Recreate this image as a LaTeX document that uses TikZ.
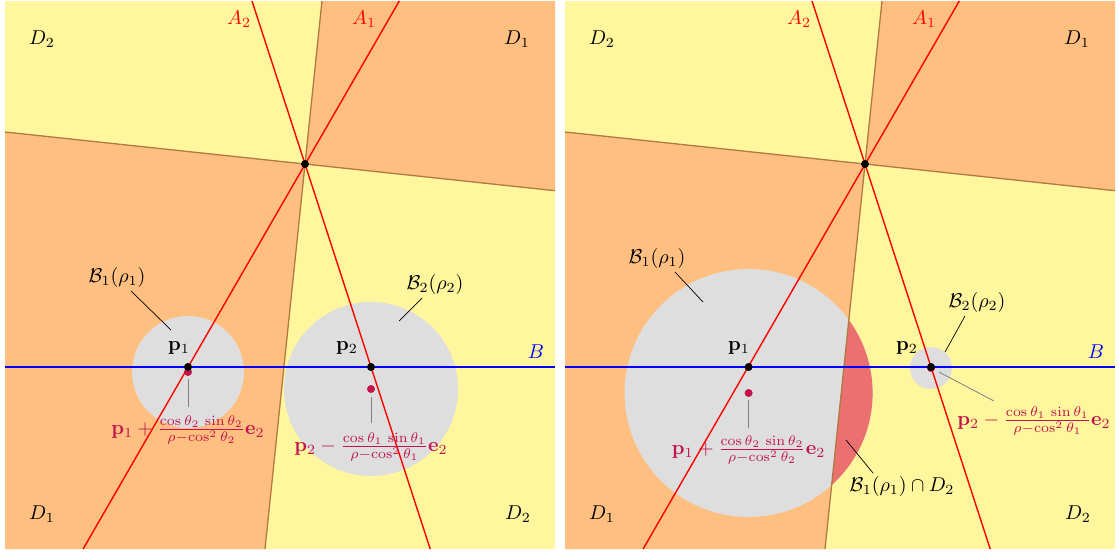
\documentclass[tikz,border=0pt]{standalone}
\usepackage{graphicx}
\definecolor{ybg}{RGB}{255,246,157}
\definecolor{obg}{RGB}{255,191,128}
\definecolor{brn}{RGB}{176,122,66}
\definecolor{dsk}{RGB}{222,222,222}
\definecolor{isect}{RGB}{236,112,112}
\definecolor{fcol}{RGB}{195,20,75}
\newcommand{\dbl}[1]{\scalebox{2}{#1}}
\tikzset{
  lbl/.style={inner sep=0pt},
  flbl/.style={lbl, text=fcol},
  brnline/.style={draw=brn, line width=1.3pt},
  redline/.style={draw=red, line width=1.4pt},
  blueline/.style={draw=blue, line width=1.4pt},
  leader/.style={draw=black, line width=0.7pt},
  gleader/.style={draw=gray, line width=0.8pt},
  bdot/.style={circle, fill=black, inner sep=0pt, minimum size=8pt},
  rdot/.style={circle, fill=fcol, inner sep=0pt, minimum size=8pt},
}
\begin{document}
\begin{tikzpicture}[x=1pt,y=-1pt]
\useasboundingbox (0,0) rectangle (1119,554);
% backgrounds
\foreach \s/\ox in {L/0,R/560}{
\begin{scope}[xshift=\ox pt]
  \coordinate (\s O) at (305,164);
  \coordinate (\s Vt) at (322,1);
  \coordinate (\s Vb) at (265,549);
  \coordinate (\s Hl) at (5,132);
  \coordinate (\s Hr) at (555,190.7);
  \coordinate (\s A1t) at (399.3,1);
  \coordinate (\s A1b) at (83.1,549);
  \coordinate (\s A2t) at (252,1);
  \coordinate (\s A2b) at (430.2,549);
  \coordinate (\s Bl) at (5,367);
  \coordinate (\s Br) at (555,367);
  \coordinate (\s TL) at (5,1);
  \coordinate (\s TR) at (555,1);
  \coordinate (\s BL) at (5,549);
  \coordinate (\s BR) at (555,549);
  \fill[ybg] (\s TL) rectangle (\s BR);
  \fill[obg] (\s O) -- (\s Vt) -- (\s TR) -- (\s Hr) -- cycle;
  \fill[obg] (\s O) -- (\s Hl) -- (\s BL) -- (\s Vb) -- cycle;
\end{scope}}
% discs, left panel
\fill[dsk] (188,372) circle (56);
\fill[dsk] (371,389) circle (87);
% discs, right panel
\fill[dsk] (748.6,393) circle (124);
\fill[dsk] (931,368) circle (21);
\begin{scope}
  \clip (RO) -- (RHr) -- (RBR) -- (RVb) -- cycle;
  \fill[isect] (748.6,393) circle (124);
\end{scope}
% lines and common labels
\foreach \s/\ox in {L/0,R/560}{
\begin{scope}[xshift=\ox pt]
  \draw[brnline] (\s Vt) -- (\s Vb);
  \draw[brnline] (\s Hl) -- (\s Hr);
  \draw[redline] (\s A1t) -- (\s A1b);
  \draw[redline] (\s A2t) -- (\s A2b);
  \draw[blueline] (\s Bl) -- (\s Br);
  \node[bdot] (\s Odot) at (\s O) {};
  \node[lbl, text=red] (\s A2lab) at (239,19) {\dbl{$A_2$}};
  \node[lbl, text=red] (\s A1lab) at (364,19) {\dbl{$A_1$}};
  \node[lbl] (\s D2a) at (42,39) {\dbl{$D_2$}};
  \node[lbl] (\s D1a) at (517,39) {\dbl{$D_1$}};
  \node[lbl] (\s D1b) at (42,514) {\dbl{$D_1$}};
  \node[lbl] (\s D2b) at (518,514) {\dbl{$D_2$}};
  \node[lbl, text=blue] (\s Blab) at (536,352) {\dbl{$B$}};
\end{scope}}
% ---------- left panel details
\node[rdot] (Lq1) at (188,372) {};
\node[bdot] (Lp1) at (188,367) {};
\node[rdot] (Lq2) at (371,389) {};
\node[bdot] (Lp2) at (371,367) {};
\node[lbl] (Lp1lab) at (179,348) {\dbl{$\mathbf{p}_1$}};
\node[lbl] (Lp2lab) at (347,348) {\dbl{$\mathbf{p}_2$}};
\node[lbl] (LB1lab) at (117,277) {\dbl{$\mathcal{B}_1(\rho_1)$}};
\node[lbl] (LB2lab) at (435,284) {\dbl{$\mathcal{B}_2(\rho_2)$}};
\coordinate (LB1s) at (131,291); \coordinate (LB1e) at (171,330);
\coordinate (LB2s) at (422,298); \coordinate (LB2e) at (399,321);
\draw[leader] (LB1s) -- (LB1e);
\draw[leader] (LB2s) -- (LB2e);
\node[flbl] (LF1) at (188,430) {\dbl{$\mathbf{p}_1+\frac{\cos\theta_2\,\sin\theta_2}{\rho-\cos^2\theta_2}\mathbf{e}_2$}};
\node[flbl] (LF2) at (371,447) {\dbl{$\mathbf{p}_2-\frac{\cos\theta_1\,\sin\theta_1}{\rho-\cos^2\theta_1}\mathbf{e}_2$}};
\coordinate (LF1s) at (188.6,379); \coordinate (LF1e) at (188.6,407);
\coordinate (LF2s) at (371,397); \coordinate (LF2e) at (371,423);
\draw[gleader] (LF1s) -- (LF1e);
\draw[gleader] (LF2s) -- (LF2e);
% ---------- right panel details
\node[rdot] (Rq1) at (748.6,393) {};
\node[bdot] (Rp1) at (748.6,367) {};
\node[rdot] (Rq2) at (931,368) {};
\node[bdot] (Rp2) at (931,367) {};
\node[lbl] (Rp1lab) at (739,348) {\dbl{$\mathbf{p}_1$}};
\node[lbl] (Rp2lab) at (907,348) {\dbl{$\mathbf{p}_2$}};
\node[lbl] (RB1lab) at (657,258) {\dbl{$\mathcal{B}_1(\rho_1)$}};
\node[lbl] (RB2lab) at (977,302) {\dbl{$\mathcal{B}_2(\rho_2)$}};
\node[lbl] (RIlab) at (902,486) {\dbl{$\mathcal{B}_1(\rho_1)\cap D_2$}};
\coordinate (RB1s) at (675,272); \coordinate (RB1e) at (703,302);
\coordinate (RB2s) at (965,316); \coordinate (RB2e) at (945,352);
\coordinate (RIs) at (873,473); \coordinate (RIe) at (846,440);
\draw[leader] (RB1s) -- (RB1e);
\draw[leader] (RB2s) -- (RB2e);
\draw[leader] (RIs) -- (RIe);
\node[flbl] (RF1) at (748.6,450) {\dbl{$\mathbf{p}_1+\frac{\cos\theta_2\,\sin\theta_2}{\rho-\cos^2\theta_2}\mathbf{e}_2$}};
\node[flbl] (RF2) at (1034,421) {\dbl{$\mathbf{p}_2-\frac{\cos\theta_1\,\sin\theta_1}{\rho-\cos^2\theta_1}\mathbf{e}_2$}};
\coordinate (RF1s) at (748.6,400); \coordinate (RF1e) at (748.6,428);
\coordinate (RF2s) at (939,372); \coordinate (RF2e) at (994,401);
\draw[gleader] (RF1s) -- (RF1e);
\draw[gleader] (RF2s) -- (RF2e);
\end{tikzpicture}
\end{document}
